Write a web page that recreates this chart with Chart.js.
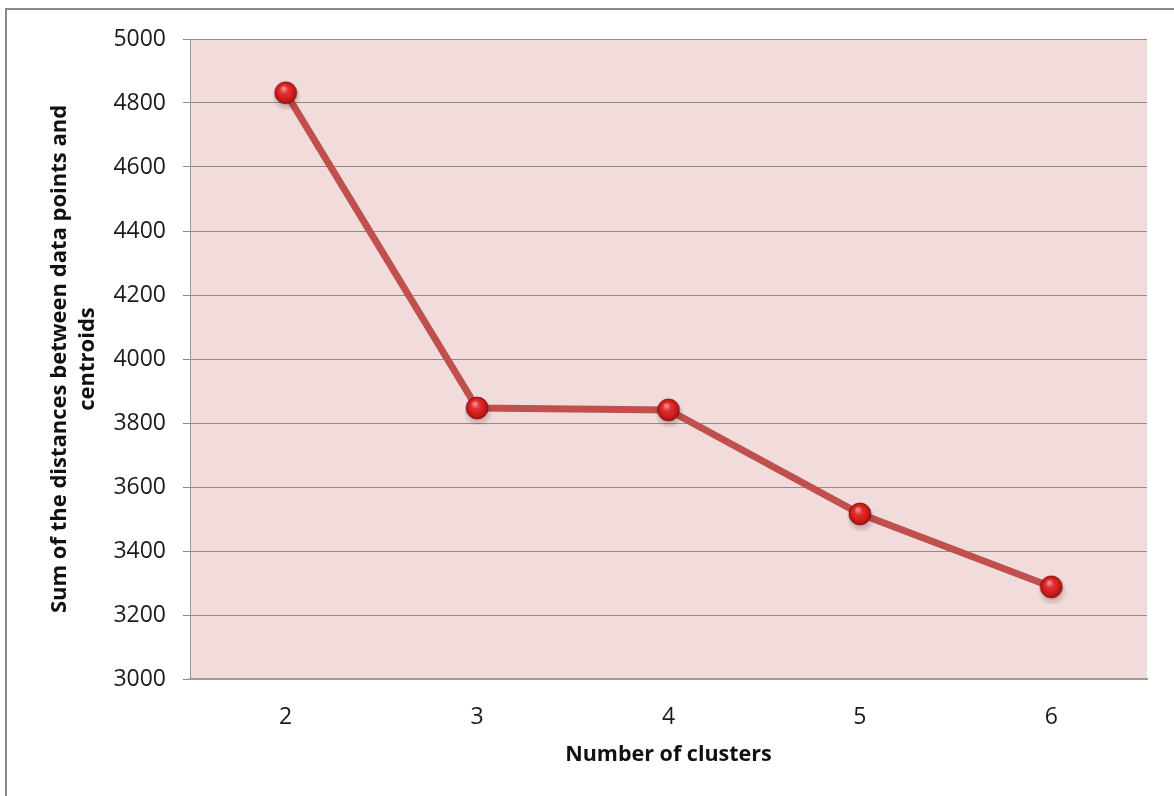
<!DOCTYPE html>
<html>
<head>
<meta charset="utf-8">
<script src="https://cdn.jsdelivr.net/npm/chart.js@4/dist/chart.umd.min.js"></script>
<style>
  html, body { margin: 0; padding: 0; background: #ffffff; }
  #wrap { position: relative; width: 1174px; height: 796px; }
</style>
</head>
<body>
<div id="wrap"><canvas id="chart" width="1174" height="796"></canvas></div>
<script>
// Elbow curve: total distance between points and their centroids per cluster count
const clusterCounts = ['2', '3', '4', '5', '6'];
const distanceSums = [4832, 3847, 3841, 3516, 3288];
const yTickValues = [3000, 3200, 3400, 3600, 3800, 4000, 4200, 4400, 4600, 4800, 5000];
const xAxisTitle = 'Number of clusters';
const yAxisTitle = ['Sum of the distances between data points and', 'centroids'];

const FONT = '"Open Sans", "Liberation Sans", sans-serif';

// Glossy sphere marker drawn once on an offscreen canvas
function makeSphere(r) {
  const pad = 6;
  const size = (r + pad) * 2;
  const c = document.createElement('canvas');
  c.width = size; c.height = size;
  const g = c.getContext('2d');
  const cx = size / 2, cy = size / 2;
  // soft drop shadow
  const sh = g.createRadialGradient(cx + 1, cy + 4, r * 0.5, cx + 1, cy + 4, r + 4);
  sh.addColorStop(0, 'rgba(80,40,40,0.35)');
  sh.addColorStop(1, 'rgba(80,40,40,0)');
  g.fillStyle = sh;
  g.beginPath(); g.arc(cx + 1, cy + 4, r + 4, 0, Math.PI * 2); g.fill();
  // body
  const body = g.createRadialGradient(cx - r * 0.2, cy - r * 0.4, r * 0.1, cx, cy, r);
  body.addColorStop(0, '#f08c8c');
  body.addColorStop(0.3, '#e23232');
  body.addColorStop(0.8, '#c81818');
  body.addColorStop(1, '#961010');
  g.fillStyle = body;
  g.beginPath(); g.arc(cx, cy, r, 0, Math.PI * 2); g.fill();
  g.strokeStyle = 'rgba(130,12,12,0.7)';
  g.lineWidth = 1;
  g.stroke();
  return c;
}
const sphere = makeSphere(11);

// Plot background and outer frame
const framePlugin = {
  id: 'framePlugin',
  beforeDraw(chart) {
    const { ctx, chartArea: a } = chart;
    ctx.save();
    ctx.fillStyle = '#ffffff';
    ctx.fillRect(0, 0, chart.width, chart.height);
    ctx.strokeStyle = '#8a8a8a';
    ctx.lineWidth = 2;
    ctx.beginPath();
    ctx.moveTo(1200, 9);
    ctx.lineTo(6, 9);
    ctx.lineTo(6, 820);
    ctx.stroke();
    ctx.fillStyle = '#f2dcdb';
    ctx.fillRect(a.left, a.top, a.right - a.left, a.bottom - a.top);
    ctx.restore();
  }
};

new Chart(document.getElementById('chart'), {
  type: 'line',
  data: {
    labels: clusterCounts,
    datasets: [{
      data: distanceSums,
      borderColor: '#c0504d',
      borderWidth: 7,
      tension: 0,
      pointStyle: sphere,
      pointRadius: 11,
      pointHoverRadius: 11,
      fill: false
    }]
  },
  options: {
    responsive: false,
    animation: false,
    devicePixelRatio: 1,
    layout: { padding: { left: 0, top: 39, right: 27, bottom: 0 } },
    plugins: {
      legend: { display: false },
      tooltip: { enabled: false }
    },
    scales: {
      x: {
        type: 'category',
        offset: true,
        grid: { display: false, drawTicks: false },
        border: { display: true, color: '#a09a9a', width: 2 },
        ticks: {
          color: '#1a1a1a',
          font: { family: FONT, size: 23 },
          padding: 25,
          maxRotation: 0
        },
        title: {
          display: true,
          text: xAxisTitle,
          color: '#111111',
          font: { family: FONT, size: 21.5, weight: 'bold' },
          padding: { top: 2, bottom: 28 }
        },
        afterFit(s) { s.height = 117; }
      },
      y: {
        min: 3000,
        max: 5000,
        afterBuildTicks(s) { s.ticks = yTickValues.map(v => ({ value: v })); },
        grid: {
          color: '#8c8c8c',
          lineWidth: 1,
          drawTicks: true,
          tickLength: 7,
          tickColor: '#8c8c8c'
        },
        border: { display: true, color: '#9a9a9a', width: 1 },
        ticks: {
          color: '#1a1a1a',
          font: { family: FONT, size: 23 },
          padding: 17,
          callback: v => String(v)
        },
        title: {
          display: true,
          text: yAxisTitle,
          color: '#111111',
          font: { family: FONT, size: 22, weight: 'bold', lineHeight: 1.3 },
          padding: { top: 45, bottom: 0 }
        },
        afterFit(s) { s.width = 190; }
      }
    }
  },
  plugins: [framePlugin]
});
</script>
</body>
</html>
